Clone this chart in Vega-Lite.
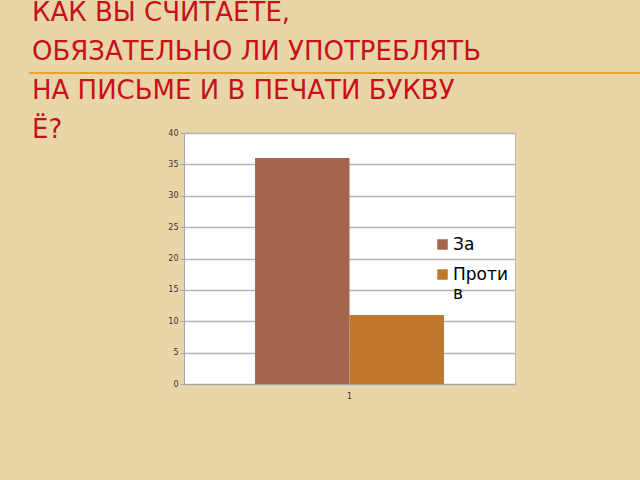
{
  "$schema": "https://vega.github.io/schema/vega-lite/v6.json",
  "width": 331,
  "height": 251,
  "autosize": {"type": "none"},
  "padding": {"left": 184, "top": 133, "right": 125, "bottom": 96},
  "background": "#E9D6A8",
  "title": {
    "text": ["КАК ВЫ СЧИТАЕТЕ,", "ОБЯЗАТЕЛЬНО ЛИ УПОТРЕБЛЯТЬ", "НА ПИСЬМЕ И В ПЕЧАТИ БУКВУ", "Ё?"],
    "anchor": "start",
    "frame": "group",
    "dx": -152,
    "dy": 75,
    "font": "DejaVu Sans",
    "fontSize": 26,
    "fontWeight": "normal",
    "color": "#C8101A",
    "lineHeight": 39
  },
  "data": {
    "values": [
      {"cat": "1", "series": "За", "value": 36},
      {"cat": "1", "series": "Против", "value": 11}
    ]
  },
  "layer": [
    {
      "mark": {"type": "bar"},
      "encoding": {
        "x": {
          "field": "cat",
          "type": "nominal",
          "scale": {"paddingInner": 0, "paddingOuter": 0.376},
          "axis": {
            "title": null,
            "labelAngle": 0,
            "labelFont": "DejaVu Sans",
            "labelFontSize": 8,
            "labelColor": "#333333",
            "labelPadding": 8,
            "ticks": false,
            "domainColor": "#A6A6A6",
            "grid": false
          }
        },
        "xOffset": {"field": "series", "type": "nominal", "scale": {"paddingInner": 0, "paddingOuter": 0}},
        "y": {
          "field": "value",
          "type": "quantitative",
          "scale": {"domain": [0, 40]},
          "axis": {
            "title": null,
            "values": [0, 5, 10, 15, 20, 25, 30, 35, 40],
            "labelOverlap": false,
            "labelFont": "DejaVu Sans",
            "labelFontSize": 8,
            "labelColor": "#333333",
            "labelPadding": 2,
            "tickSize": 4,
            "tickColor": "#A6A6A6",
            "domainColor": "#A6A6A6",
            "gridColor": "#B4B4B4",
            "gridWidth": 1.5
          }
        },
        "color": {
          "field": "series",
          "type": "nominal",
          "scale": {"domain": ["За", "Против"], "range": ["#A5644E", "#C0762B"]},
          "legend": {
            "title": null,
            "orient": "none",
            "legendX": 250,
            "legendY": 103,
            "symbolType": "square",
            "symbolSize": 110,
            "symbolStrokeWidth": 0,
            "labelFont": "DejaVu Sans",
            "labelFontSize": 17,
            "labelColor": "#000000",
            "labelLineHeight": 21,
            "labelExpr": "datum.label == 'Против' ? ['Проти', 'в'] : datum.label",
            "rowPadding": 12,
            "labelOffset": 2
          }
        }
      }
    },
    {
      "mark": {"type": "rule", "clip": false, "color": "#E8A23A", "strokeWidth": 2},
      "encoding": {
        "y": {"value": -60},
        "x": {"value": -155},
        "x2": {"value": 456}
      }
    }
  ],
  "config": {
    "view": {"fill": "#FFFFFF", "stroke": "#BBBBBB"}
  }
}
